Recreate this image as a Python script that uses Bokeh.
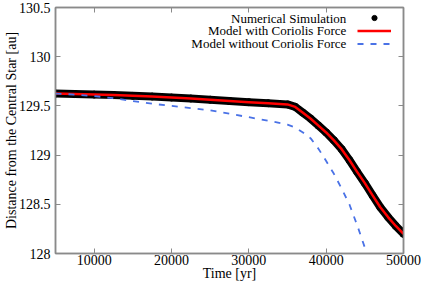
from bokeh.plotting import figure
from bokeh.models import (FixedTicker, LinearAxis, Range1d, Legend, LegendItem, Label)
from bokeh.embed import file_html
from bokeh.resources import INLINE

# ---- data ----
time_sim = [5000, 7500, 10000, 12500, 15000, 17500, 20000, 22500, 25000, 27500, 30000,
            32500, 35000, 36000, 37000, 38000, 39000, 40000, 41000, 42000, 43000, 44000,
            45000, 46000, 47000, 48000, 49000, 50000]
dist_sim = [129.625, 129.62, 129.615, 129.61, 129.602, 129.595, 129.585, 129.575, 129.563,
            129.55, 129.538, 129.527, 129.515, 129.49, 129.43, 129.37, 129.30, 129.23,
            129.15, 129.06, 128.95, 128.83, 128.715, 128.59, 128.47, 128.37, 128.28, 128.2]

time_model = [5000, 7500, 10000, 12500, 15000, 17500, 20000, 22500, 25000, 27500, 30000,
              32500, 35000, 36000, 37000, 38000, 39000, 40000, 41000, 42000, 43000, 44000,
              45000, 46000, 47000, 48000, 49000, 50000]
dist_model = [129.625, 129.62, 129.615, 129.61, 129.602, 129.595, 129.585, 129.575, 129.563,
              129.55, 129.538, 129.527, 129.515, 129.49, 129.43, 129.37, 129.30, 129.23,
              129.15, 129.06, 128.95, 128.83, 128.715, 128.59, 128.47, 128.37, 128.28, 128.2]

time_nocor = [5000, 7500, 10000, 12500, 15000, 17500, 20000, 22500, 25000, 27500, 30000,
              32500, 35000, 36000, 37000, 38000, 39000, 40000, 41000, 42000, 43000, 44000,
              45000, 45500]
dist_nocor = [129.625, 129.615, 129.60, 129.578, 129.55, 129.522, 129.50, 129.478, 129.455,
              129.42, 129.385, 129.35, 129.31, 129.28, 129.23, 129.17, 129.065, 128.94,
              128.81, 128.66, 128.50, 128.29, 128.06, 127.94]

x_ticks = [10000, 20000, 30000, 40000, 50000]
x_tick_labels = ["10000", "20000", "30000", "40000", "50000"]
y_ticks = [128, 128.5, 129, 129.5, 130, 130.5]
y_tick_labels = ["128", "128.5", "129", "129.5", "130", "130.5"]

x_title = "Time [yr]"
y_title = "Distance from the Central Star [au]"
legend_labels = ["Numerical Simulation", "Model with Coriolis Force", "Model without Coriolis Force"]

FONT = "Liberation Serif"
GRAY = "#8a8a8a"

p = figure(width=421, height=283, output_backend="svg", toolbar_location=None,
           x_range=Range1d(5000, 50000), y_range=Range1d(128, 130.5),
           min_border_left=10, min_border_right=18, min_border_top=7, min_border_bottom=10)
p.background_fill_color = "white"
p.border_fill_color = "white"
p.outline_line_color = GRAY
p.outline_line_width = 1.5
p.grid.visible = False

# main axes
for ax in (p.xaxis[0], p.yaxis[0]):
    ax.axis_line_color = GRAY
    ax.axis_line_width = 1.5
    ax.major_tick_line_color = GRAY
    ax.major_tick_in = 5
    ax.major_tick_out = 0
    ax.minor_tick_line_color = None
    ax.major_label_text_font = FONT
    ax.major_label_text_font_size = "14px"
    ax.major_label_text_color = "black"
    ax.axis_label_text_font = FONT
    ax.axis_label_text_font_size = "14px"
    ax.axis_label_text_font_style = "normal"
    ax.axis_label_text_color = "black"

p.xaxis[0].ticker = FixedTicker(ticks=x_ticks)
p.xaxis[0].major_label_overrides = dict(zip(x_ticks, x_tick_labels))
p.xaxis[0].axis_label = x_title
p.xaxis[0].major_label_standoff = 1
p.xaxis[0].axis_label_standoff = -2

p.yaxis[0].ticker = FixedTicker(ticks=y_ticks)
p.yaxis[0].major_label_overrides = dict(zip(y_ticks, y_tick_labels))
p.yaxis[0].axis_label = y_title
p.yaxis[0].major_label_standoff = 5
p.yaxis[0].axis_label_standoff = -3

# mirrored ticks on top and right (labels not drawn)
top = LinearAxis(ticker=FixedTicker(ticks=x_ticks), major_label_text_font_size="1px",
                 major_label_text_color=None,
                 major_label_standoff=0, major_tick_in=5, major_tick_out=0,
                 minor_tick_line_color=None, major_tick_line_color=GRAY,
                 axis_line_color=GRAY, axis_line_width=1.5)
right = LinearAxis(ticker=FixedTicker(ticks=y_ticks), major_label_text_font_size="1px",
                   major_label_text_color=None,
                   major_label_standoff=0, major_tick_in=5, major_tick_out=0,
                   minor_tick_line_color=None, major_tick_line_color=GRAY,
                   axis_line_color=GRAY, axis_line_width=1.5)
p.add_layout(top, "above")
p.add_layout(right, "right")

# series
p.line(time_sim, dist_sim, line_color="black", line_width=8, line_cap="round", line_join="round")
sim = p.scatter(time_sim, dist_sim, size=7, color="black")
red = p.line(time_model, dist_model, line_color="#ff0000", line_width=2.5, line_join="round")
blue = p.line(time_nocor, dist_nocor, line_color="#4a72e6", line_width=1.8, line_dash="6 7")

legend = Legend(items=[LegendItem(label=" ", renderers=[sim]),
                       LegendItem(label=" ", renderers=[red]),
                       LegendItem(label=" ", renderers=[blue])],
                location="top_right", margin=4, padding=0, spacing=0,
                glyph_width=34, glyph_height=13, label_height=13, label_width=8,
                label_standoff=0, label_text_font_size="8px", label_text_color=None,
                border_line_color=None, background_fill_alpha=0)
p.add_layout(legend)

# legend texts (right aligned, left of the samples)
legend_y = [130.393, 130.262, 130.13]
for txt, yy in zip(legend_labels, legend_y):
    p.add_layout(Label(x=42600, y=yy, text=txt, text_align="right", text_baseline="middle",
                       text_font=FONT, text_font_size="13px", text_color="black"))

open("out.html", "w").write(file_html(p, INLINE))
